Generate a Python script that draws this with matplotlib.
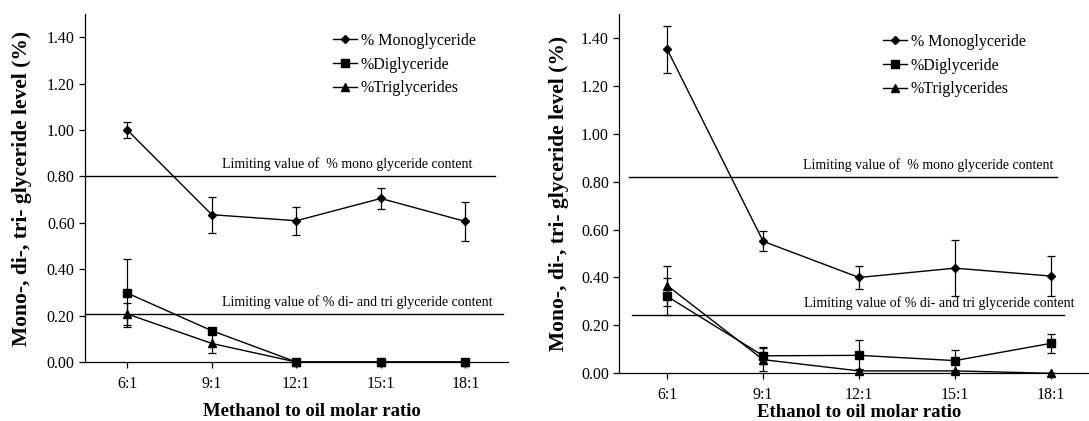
import matplotlib.pyplot as plt
import numpy as np

plt.rcParams['font.family'] = ['Liberation Serif', 'DejaVu Serif']

# ---------------------------------------------------------
# Data
# ---------------------------------------------------------
ratios = ['6:1', '9:1', '12:1', '15:1', '18:1']

# Methanol
meoh_mono = [1.00, 0.635, 0.609, 0.705, 0.606]
meoh_mono_err = [0.036, 0.077, 0.060, 0.046, 0.085]
meoh_di = [0.297, 0.135, 0.0, 0.0, 0.0]
meoh_di_err = [0.145, 0.0, 0.0, 0.0, 0.0]
meoh_tri = [0.207, 0.080, 0.0, 0.0, 0.0]
meoh_tri_err = [0.048, 0.040, 0.0, 0.0, 0.0]
meoh_limits = [0.80, 0.205]

# Ethanol
etoh_mono = [1.352, 0.551, 0.400, 0.439, 0.406]
etoh_mono_err = [0.100, 0.042, 0.050, 0.117, 0.084]
etoh_di = [0.321, 0.073, 0.075, 0.053, 0.125]
etoh_di_err = [0.077, 0.035, 0.063, 0.046, 0.040]
etoh_tri = [0.366, 0.057, 0.010, 0.010, 0.0]
etoh_tri_err = [0.083, 0.047, 0.010, 0.005, 0.0]
etoh_limits = [0.819, 0.243]

mono_txt = 'Limiting value of  % mono glyceride content'
ditri_txt = 'Limiting value of % di- and tri glyceride content'
series_labels = ['% Monoglyceride', '%Diglyceride', '%Triglycerides']

# ---------------------------------------------------------
# Figure
# ---------------------------------------------------------
fig = plt.figure(figsize=(10.89, 4.21), dpi=100)
ax1 = fig.add_axes([0.0781, 0.1401, 0.3880, 0.8266])
ax2 = fig.add_axes([0.5687, 0.1133, 0.4403, 0.8534])

x = np.arange(len(ratios))


def draw_panel(ax, mono, mono_err, di, di_err, tri, tri_err, limits,
               mono_line, ditri_line, mono_text_x, ditri_text_x,
               xlabel, xlabelpad, xlabel_x, tickpad, legend_xy):
    style = dict(color='black', lw=1.0, elinewidth=0.9, capsize=2.8, capthick=0.9)
    handles = []
    for vals, errs, mk, ms, lab in [(mono, mono_err, 'D', 4.2, series_labels[0]),
                                    (di, di_err, 's', 6, series_labels[1]),
                                    (tri, tri_err, '^', 6, series_labels[2])]:
        cont = ax.errorbar(x, vals, yerr=errs, marker=mk, ms=ms, **style)
        cont.lines[0].set_clip_on(False)
        handles.append((cont.lines[0], lab))

    # limit lines
    ax.plot(mono_line, [limits[0]] * 2, color='black', lw=1.0, clip_on=False)
    ax.plot(ditri_line, [limits[1]] * 2, color='black', lw=1.0, clip_on=False)
    ax.text(mono_text_x, limits[0] + 0.022, mono_txt, fontsize=10, ha='left', va='bottom')
    ax.text(ditri_text_x, limits[1] + 0.022, ditri_txt, fontsize=10, ha='left', va='bottom')

    ax.set_xlim(-0.5, 4.5)
    ax.set_ylim(0, 1.5)
    ax.set_xticks(x)
    ax.set_xticklabels(ratios)
    ax.set_yticks(np.arange(0, 1.41, 0.2))
    ax.set_yticklabels([f'{v:.2f}' for v in np.arange(0, 1.41, 0.2)])
    ax.tick_params(axis='both', labelsize=11.5, length=4, width=0.9, direction='out')
    ax.tick_params(axis='x', pad=tickpad)
    for s in ['top', 'right']:
        ax.spines[s].set_visible(False)
    for s in ['left', 'bottom']:
        ax.spines[s].set_linewidth(0.9)

    ax.set_xlabel(xlabel, fontsize=13.5, fontweight='bold', labelpad=xlabelpad)
    ax.xaxis.label.set_x(xlabel_x)
    ax.set_ylabel('Mono-, di-, tri- glyceride level (%)', fontsize=15.5, fontweight='bold')

    ax.legend([h for h, _ in handles], [l for _, l in handles],
              loc='upper left', bbox_to_anchor=legend_xy, bbox_transform=fig.transFigure,
              frameon=False, fontsize=11.5, handlelength=1.5, handletextpad=0.25,
              labelspacing=0.48, borderpad=0, borderaxespad=0)


draw_panel(ax1, meoh_mono, meoh_mono_err, meoh_di, meoh_di_err, meoh_tri, meoh_tri_err,
           meoh_limits, [-0.5, 4.35], [-0.5, 4.44], 1.12, 1.12,
           'Methanol to oil molar ratio', 8, 0.537, 6, (333 / 1089, 1 - 33 / 421))
draw_panel(ax2, etoh_mono, etoh_mono_err, etoh_di, etoh_di_err, etoh_tri, etoh_tri_err,
           etoh_limits, [-0.40, 4.06], [-0.365, 4.14], 1.42, 1.43,
           'Ethanol to oil molar ratio', 0.8, 0.5, 6, (883 / 1089, 1 - 34 / 421))

ax1.yaxis.set_label_coords(-0.125, 0.5)
ax2.yaxis.set_label_coords(-0.105, 0.5)

fig.savefig('out.png', dpi=100)
